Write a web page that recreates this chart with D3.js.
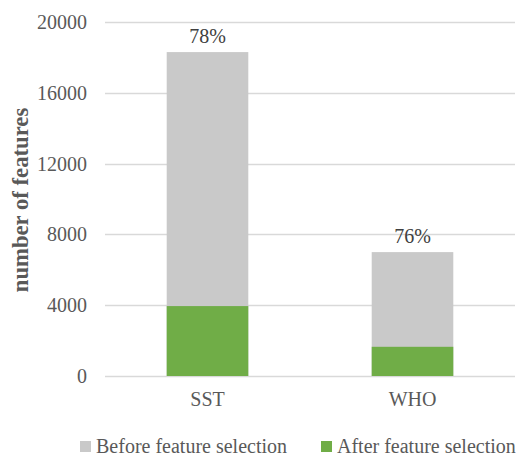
<!DOCTYPE html>
<html><head><meta charset="utf-8">
<script src="https://cdn.jsdelivr.net/npm/d3@7"></script>
<style>body{margin:0;background:#fff;}</style>
</head><body>
<svg id="c" width="520" height="461" font-family="Liberation Serif, Times New Roman, serif"></svg>
<script>
const categories = ["SST", "WHO"];
const beforeValues = [18300, 7000];
const afterValues = [3950, 1650];
const reductionLabels = ["78%", "76%"];
const yTicks = [0, 4000, 8000, 12000, 16000, 20000];
const seriesNames = ["Before feature selection", "After feature selection"];
const colors = ["#C9C9C9", "#70AD47"];

const FONT = "Liberation Serif, Times New Roman, serif";
const svg = d3.select("#c");
const mLeft = 105, mRight = 515, mTop = 22, mBottom = 376;
const x = d3.scaleBand().domain(categories).range([mLeft, mRight]).paddingInner(0.602).paddingOuter(0.301);
const y = d3.scaleLinear().domain([0, 20000]).range([mBottom, mTop]);

// gridlines
svg.append("g").selectAll("line").data(yTicks).join("line")
  .attr("x1", mLeft).attr("x2", mRight)
  .attr("y1", d => Math.round(y(d)) + 0.5).attr("y2", d => Math.round(y(d)) + 0.5)
  .attr("stroke", "#D9D9D9").attr("stroke-width", 1.5);

// y axis labels
const yAxis = d3.axisLeft(y).tickValues(yTicks).tickSize(0).tickPadding(0).tickFormat(d3.format("d"));
const ga = svg.append("g").attr("transform", `translate(${mLeft - 18},0)`).call(yAxis)
  .attr("font-family", FONT).attr("font-size", 20);
ga.select(".domain").remove();
ga.selectAll("text").attr("fill", "#595959");

// bars
svg.append("g").selectAll("rect").data(categories).join("rect")
  .attr("x", d => x(d)).attr("width", x.bandwidth())
  .attr("y", (d, i) => y(beforeValues[i])).attr("height", (d, i) => y(0) - y(beforeValues[i]))
  .attr("fill", colors[0]);
svg.append("g").selectAll("rect").data(categories).join("rect")
  .attr("x", d => x(d)).attr("width", x.bandwidth())
  .attr("y", (d, i) => y(afterValues[i])).attr("height", (d, i) => y(0) - y(afterValues[i]))
  .attr("fill", colors[1]);

// value labels
svg.append("g").attr("font-family", FONT).selectAll("text").data(categories).join("text")
  .attr("x", d => x(d) + x.bandwidth() / 2)
  .attr("y", (d, i) => y(beforeValues[i]) - 9)
  .attr("text-anchor", "middle").attr("font-size", 20).attr("fill", "#404040")
  .text((d, i) => reductionLabels[i]);

// x axis labels
const xAxis = d3.axisBottom(x).tickSize(0).tickPadding(0);
const gx = svg.append("g").attr("transform", `translate(0,${mBottom})`).call(xAxis)
  .attr("font-family", FONT).attr("font-size", 20);
gx.select(".domain").remove();
gx.selectAll("text").attr("fill", "#595959").attr("dy", null).attr("y", 30);

// y title
svg.append("text").attr("transform", "translate(27.5,200) rotate(-90)")
  .attr("font-family", FONT)
  .attr("text-anchor", "middle").attr("font-size", 22.7).attr("font-weight", "bold").attr("fill", "#595959")
  .text("number of features");

// legend
const legendX = [80, 321];
const lg = svg.append("g").attr("font-family", FONT).selectAll("g").data(seriesNames).join("g")
  .attr("transform", (d, i) => `translate(${legendX[i]},441)`);
lg.append("rect").attr("width", 11).attr("height", 11).attr("fill", (d, i) => colors[i]);
lg.append("text").attr("x", 16).attr("y", 12).attr("font-size", 20).attr("fill", "#595959").text(d => d);
</script>
</body></html>
